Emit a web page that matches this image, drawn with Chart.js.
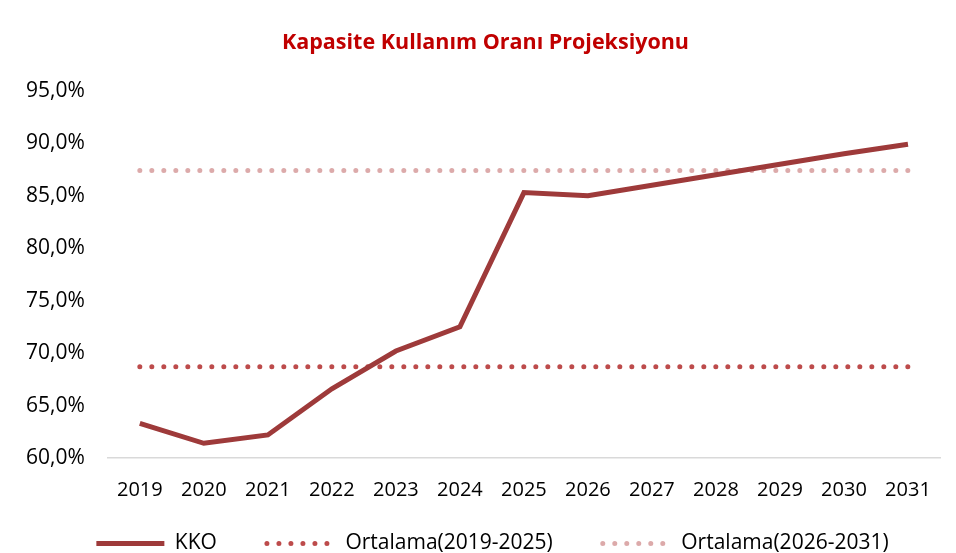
<!DOCTYPE html>
<html>
<head>
<meta charset="utf-8">
<script src="https://cdn.jsdelivr.net/npm/chart.js@4"></script>
<style>
  body { margin: 0; background: #fff; }
  #wrap { width: 956px; height: 553px; }
</style>
</head>
<body>
<div id="wrap"><canvas id="kkoChart"></canvas></div>
<script>
const years = ['2019', '2020', '2021', '2022', '2023', '2024', '2025', '2026', '2027', '2028', '2029', '2030', '2031'];
const kko = [63.3, 61.4, 62.2, 66.6, 70.2, 72.5, 85.3, 85.0, 86.0, 87.0, 88.0, 89.0, 89.9];
const avg1 = [68.7, 68.7, 68.7, 68.7, 68.7, 68.7, 68.7, 68.7, 68.7, 68.7, 68.7, 68.7, 68.7];
const avg2 = [87.4, 87.4, 87.4, 87.4, 87.4, 87.4, 87.4, 87.4, 87.4, 87.4, 87.4, 87.4, 87.4];

const fontFam = "'Open Sans', 'Noto Sans', sans-serif";

// legend box is kept short in layout, then pulled up so its items sit under the x labels;
// title and legend nudged right a bit like in the original
const layoutTweak = {
    id: 'layoutTweak',
    afterLayout(chart) {
        const lg = chart.legend;
        lg.top = lg.bottom - 70;
        lg.left += 21; lg.right += 21;
        const t = chart.titleBlock;
        if (t) { t.left += 14; t.right += 14; }
    }
};

new Chart(document.getElementById('kkoChart'), {
    type: 'line',
    data: {
        labels: years,
        datasets: [
            { label: 'KKO', data: kko, borderColor: '#9e3a3a', borderWidth: 5, pointRadius: 0, order: 0 },
            { label: 'Ortalama(2019-2025)', data: avg1, borderColor: '#bd4b4b', borderWidth: 5,
              borderDash: [0, 12], borderCapStyle: 'round', pointRadius: 0, order: 1 },
            { label: 'Ortalama(2026-2031)', data: avg2, borderColor: '#dcaaaa', borderWidth: 5,
              borderDash: [0, 12], borderCapStyle: 'round', pointRadius: 0, order: 2 }
        ]
    },
    plugins: [layoutTweak],
    options: {
        responsive: true,
        maintainAspectRatio: false,
        animation: false,
        layout: { padding: { left: 3, right: 16, top: 8, bottom: 0 } },
        plugins: {
            title: {
                display: true,
                text: 'Kapasite Kullanım Oranı Projeksiyonu',
                color: '#c00000',
                font: { family: fontFam, size: 21.5, weight: 'bold' },
                padding: { top: 22, bottom: 35 }
            },
            legend: {
                position: 'bottom',
                maxHeight: 31,
                labels: {
                    color: '#000',
                    font: { family: fontFam, size: 21 },
                    usePointStyle: true,
                    pointStyleWidth: 68,
                    boxHeight: 10,
                    padding: 50,
                    generateLabels: chart => chart.data.datasets.map((ds, i) => ({
                        text: ds.label,
                        fillStyle: ds.borderColor,
                        strokeStyle: ds.borderColor,
                        lineWidth: ds.borderWidth,
                        lineDash: ds.borderDash || [],
                        lineCap: ds.borderDash ? 'round' : 'butt',
                        pointStyle: 'line',
                        fontColor: '#000',
                        datasetIndex: i
                    }))
                }
            },
            tooltip: { enabled: false }
        },
        scales: {
            x: {
                offset: true,
                grid: { display: false, drawTicks: false },
                border: { color: '#d9d9d9', width: 1.5 },
                ticks: { color: '#000', font: { family: fontFam, size: 20 }, padding: 20 }
            },
            y: {
                min: 60, max: 95,
                grid: { display: false, drawTicks: false },
                border: { display: false },
                ticks: {
                    stepSize: 5,
                    color: '#000',
                    font: { family: fontFam, size: 21 },
                    padding: 23,
                    callback: v => v.toFixed(1).replace('.', ',') + '%'
                }
            }
        }
    }
});
</script>
</body>
</html>
